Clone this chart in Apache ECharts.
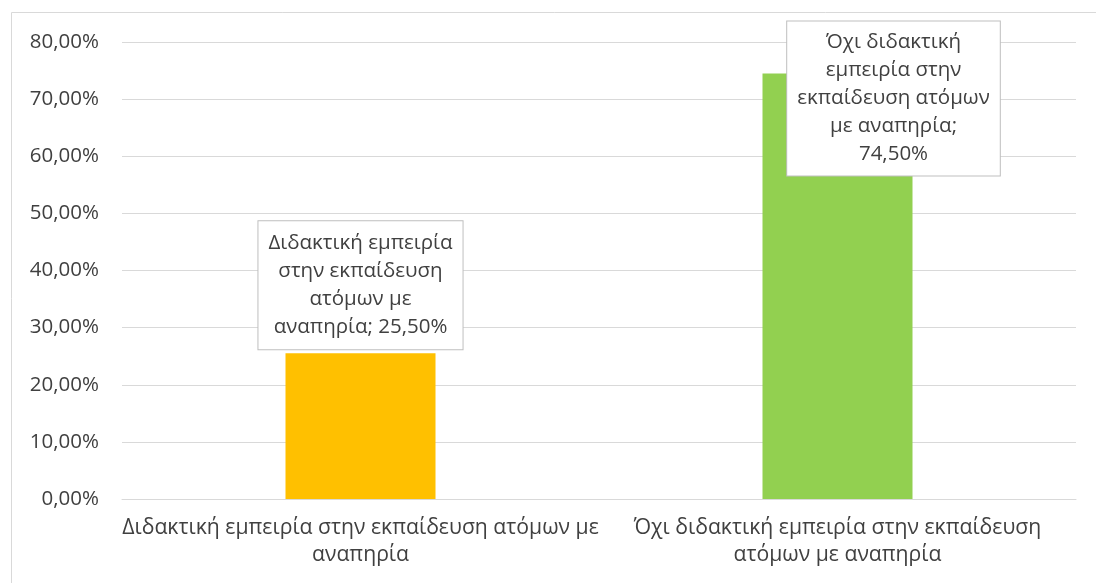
<!DOCTYPE html>
<html>
<head>
<meta charset="utf-8">
<script src="https://cdn.jsdelivr.net/npm/echarts@6/dist/echarts.min.js"></script>
<style>
  html, body { margin: 0; padding: 0; background: #fff; }
  #chart { width: 1096px; height: 583px; }
</style>
</head>
<body>
<div id="chart"></div>
<script>
// categories and values (percent)
const categories = [
  "Διδακτική εμπειρία στην εκπαίδευση ατόμων με αναπηρία",
  "Όχι διδακτική εμπειρία στην εκπαίδευση ατόμων με αναπηρία"
];
const values = [25.5, 74.5];
const barColors = ["#FFC000", "#92D050"];
// how the category names wrap under the axis and inside the label boxes
const axisLines = [
  ["Διδακτική εμπειρία στην εκπαίδευση ατόμων με", "αναπηρία"],
  ["Όχι διδακτική εμπειρία στην εκπαίδευση", "ατόμων με αναπηρία"]
];
const labelLines = [
  ["Διδακτική εμπειρία", "στην εκπαίδευση", "ατόμων με"],
  ["Όχι διδακτική", "εμπειρία στην", "εκπαίδευση ατόμων", "με αναπηρία;"]
];
const yTicks = { min: 0, max: 80, interval: 10 };

const fmtPct = v => v.toFixed(2).replace(".", ",") + "%";
const FONT = "'Open Sans', 'Noto Sans', sans-serif";

const chart = echarts.init(document.getElementById("chart"));

const labelBase = {
  show: true,
  fontFamily: FONT,
  fontSize: 20.5,
  lineHeight: 28,
  color: "#404040",
  backgroundColor: "#fff",
  borderColor: "#BFBFBF",
  borderWidth: 1,
  align: "center"
};

const option = {
  animation: false,
  grid: { left: 122, right: 20, top: 42, bottom: 84 },
  graphic: [{
    type: "rect",
    shape: { x: 11.5, y: 12.5, width: 1200, height: 700 },
    style: { fill: "none", stroke: "#D9D9D9", lineWidth: 1 },
    silent: true
  }],
  xAxis: {
    type: "category",
    data: categories,
    axisLine: { lineStyle: { color: "#D9D9D9", width: 1 } },
    axisTick: { show: false },
    axisLabel: {
      fontFamily: FONT,
      fontSize: 21.2,
      lineHeight: 27,
      color: "#404040",
      margin: 15,
      interval: 0,
      formatter: (v, i) => axisLines[i].join("\n")
    }
  },
  yAxis: {
    type: "value",
    min: yTicks.min,
    max: yTicks.max,
    interval: yTicks.interval,
    axisLine: { show: false },
    axisTick: { show: false },
    splitLine: { lineStyle: { color: "#D9D9D9", width: 1 } },
    axisLabel: {
      fontFamily: FONT,
      fontSize: 20.5,
      color: "#404040",
      margin: 23,
      formatter: v => fmtPct(v)
    }
  },
  series: [{
    type: "bar",
    barWidth: 150,
    data: values.map((v, i) => {
      const item = { value: v, itemStyle: { color: barColors[i] } };
      if (i === 0) {
        item.label = Object.assign({}, labelBase, {
          position: "top",
          distance: 4,
          padding: [8, 10, 8, 10],
          formatter: () => labelLines[0].join("\n") + "\nαναπηρία; " + fmtPct(v)
        });
      } else {
        item.label = Object.assign({}, labelBase, {
          position: "top",
          distance: 0,
          offset: [56, 102],
          padding: [7, 10, 7, 10],
          formatter: () => labelLines[1].join("\n") + "\n" + fmtPct(v)
        });
      }
      return item;
    })
  }]
};

chart.setOption(option);
</script>
</body>
</html>
